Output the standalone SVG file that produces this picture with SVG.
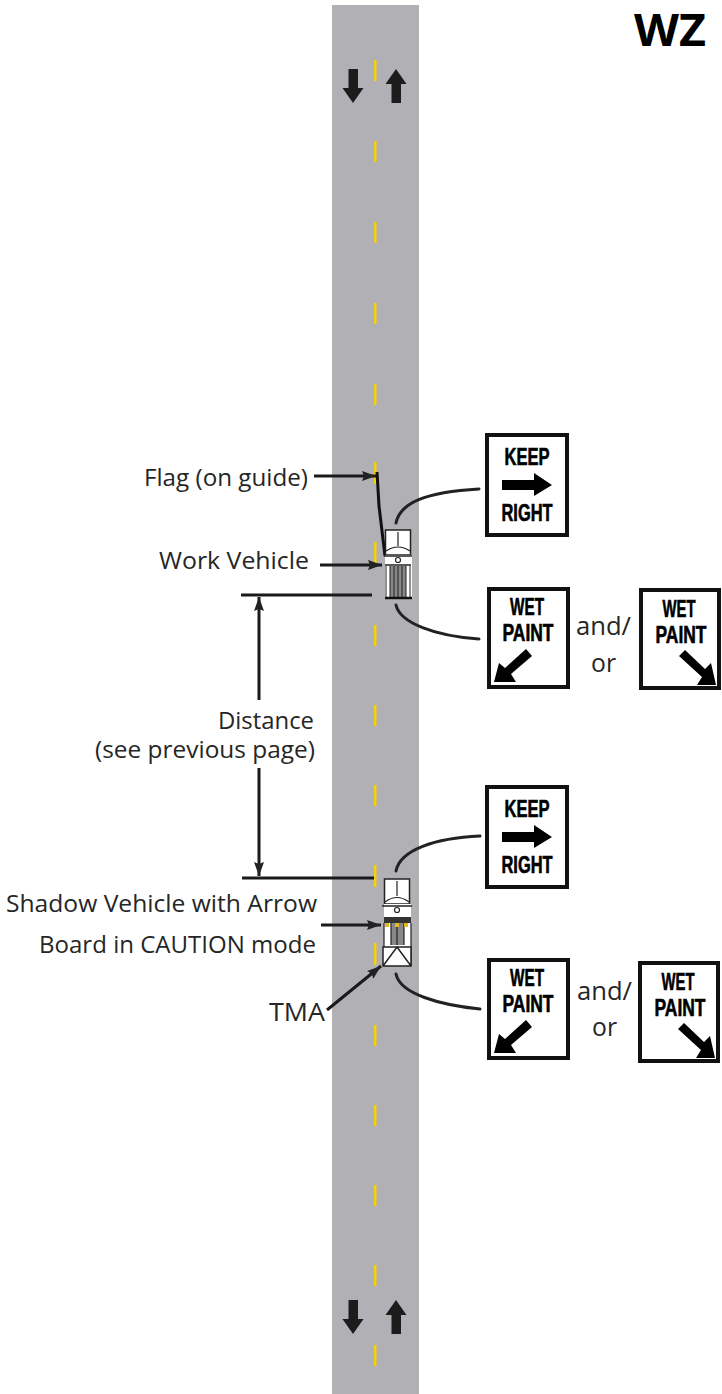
<svg xmlns="http://www.w3.org/2000/svg" width="722" height="1394" viewBox="0 0 722 1394">
<style>
.lbl{font-family:"Open Sans","Liberation Sans",sans-serif;font-size:23px;fill:#262626}
.sg{font-family:"Liberation Sans",Arial,sans-serif;font-weight:bold;font-size:23px;fill:#000;stroke:#000;stroke-width:.6}
.plate{fill:#fff;stroke:#111;stroke-width:4}
.ln{fill:none;stroke:#1a1a1a;stroke-width:3}
.cv{fill:none;stroke:#222;stroke-width:3;stroke-linecap:round}
.dash{fill:#f8d008}
.ra{fill:#1c1c1c}
.t{fill:#fff;stroke:#222;stroke-width:1.5}
.d{fill:none;stroke:#222;stroke-width:1.2}
</style>
<defs>
<marker id="ah" markerWidth="15" markerHeight="11" refX="14" refY="5.500" orient="auto" markerUnits="userSpaceOnUse"><path d="M0,0.500 L14,5.500 L0,10.500 L2,5.500 Z" fill="#222"/></marker>
<g id="keep">
<rect class="plate" x="2" y="2" width="80" height="100"/>
<text class="sg" x="42" y="32" text-anchor="middle" textLength="45" lengthAdjust="spacingAndGlyphs">KEEP</text>
<path d="M17,47 H49 V40 L67,52 L49,63 V57 H17 Z" fill="#000"/>
<text class="sg" x="42" y="88" text-anchor="middle" textLength="51" lengthAdjust="spacingAndGlyphs">RIGHT</text>
</g>
<g id="wetl">
<rect class="plate" x="2" y="2" width="79" height="98"/>
<text class="sg" x="40" y="28" text-anchor="middle" textLength="34" lengthAdjust="spacingAndGlyphs">WET</text>
<text class="sg" x="41" y="54" text-anchor="middle" textLength="51" lengthAdjust="spacingAndGlyphs">PAINT</text>
<path d="M39,62 L45,69 L24,87 L29,95 L7,95 L12,76 L18,81 Z" fill="#000"/>
</g>
<g id="wetr">
<rect class="plate" x="2" y="2" width="78" height="98"/>
<text class="sg" x="40" y="29" text-anchor="middle" textLength="33" lengthAdjust="spacingAndGlyphs">WET</text>
<text class="sg" x="42" y="55" text-anchor="middle" textLength="51" lengthAdjust="spacingAndGlyphs">PAINT</text>
<path d="M40,68 L46,62 L66,81 L72,75 L77,97 L58,97 L63,89 Z" fill="#000"/>
</g>
<path id="up" d="M0,0 L10.500,15 H5 V34 H-4.500 V15 H-10.500 Z" class="ra"/>
</defs>

<g id="road">
<rect x="332" y="5" width="87" height="1389" fill="#b1b1b5"/>
<g id="centerline" class="dash">
<rect x="374" y="60" width="2.500" height="21"/><rect x="374" y="141" width="2.500" height="21"/><rect x="374" y="222" width="2.500" height="21"/><rect x="374" y="303" width="2.500" height="21"/><rect x="374" y="384" width="2.500" height="21"/><rect x="374" y="462" width="2.500" height="22"/><rect x="374" y="542" width="2.500" height="23"/><rect x="374" y="625" width="2.500" height="21"/><rect x="374" y="705" width="2.500" height="21"/><rect x="374" y="785" width="2.500" height="21"/><rect x="374" y="865" width="2.500" height="22"/><rect x="374" y="943" width="2.500" height="22"/><rect x="374" y="1025" width="2.500" height="21"/><rect x="374" y="1105" width="2.500" height="21"/><rect x="374" y="1185" width="2.500" height="21"/><rect x="374" y="1265" width="2.500" height="21"/><rect x="374" y="1345" width="2.500" height="21"/>
</g>
<use href="#up" transform="translate(353,103) scale(1,-1)"/>
<use href="#up" transform="translate(396,69)"/>
<use href="#up" transform="translate(353,1334) scale(1,-1)"/>
<use href="#up" transform="translate(396,1300)"/>
</g>

<text id="title" x="634" y="46" font-family="'Open Sans','Liberation Sans',sans-serif" font-weight="bold" font-size="44" fill="#000" textLength="72" lengthAdjust="spacingAndGlyphs">WZ</text>

<g id="connectors">
<path class="ln" d="M314,476 H376" marker-end="url(#ah)"/>
<path d="M377,472 L379,506 L385,556" fill="none" stroke="#111" stroke-width="3"/>
<path class="ln" d="M320,565 H382" marker-end="url(#ah)"/>
<path class="ln" d="M241,595 H372"/>
<path class="ln" d="M242,878 H374"/>
<path class="ln" d="M259,700 V597" marker-end="url(#ah)"/>
<path class="ln" d="M259,768 V876" marker-end="url(#ah)"/>
<path class="ln" d="M321,925 H381" marker-end="url(#ah)"/>
<path class="ln" d="M327,1010 L381,966" marker-end="url(#ah)"/>
<path class="cv" d="M396,523 C400,503 425,492 479,489"/>
<path class="cv" d="M396,605 C400,623 435,636 479,639"/>
<path class="cv" d="M396,871 C400,850 435,838 480,836"/>
<path class="cv" d="M396,974 C400,994 440,1005 480,1009"/>
</g>

<g id="work-vehicle">
<rect class="t" x="385.500" y="530" width="25" height="25"/>
<path class="d" d="M398,532 V546 M386,551 Q398,543 410,551"/>
<rect x="385" y="555" width="27" height="44" fill="#fff"/>
<path d="M384,556 H412" stroke="#222" stroke-width="1.500"/>
<circle cx="398" cy="560" r="2.500" class="d"/>
<rect x="390" y="566" width="16" height="31" fill="#888"/>
<path d="M386,566 V597 M390,566 V597 M394,566 V597 M398,566 V597 M402,566 V597 M406,566 V597 M410,566 V597" stroke="#222" stroke-width="1"/>
<path d="M385,565 H411" stroke="#222" stroke-width="1.500"/>
<path d="M385,598 H412" stroke="#111" stroke-width="2.500"/>
</g>

<g id="shadow-vehicle">
<rect class="t" x="384.500" y="879" width="25" height="25"/>
<path class="d" d="M397,881 V896 M385,902 Q397,893 409,902"/>
<rect x="384" y="904" width="27" height="62" fill="#fff"/>
<path d="M382,906 H412" stroke="#222" stroke-width="1.500"/>
<circle cx="397" cy="910" r="2.500" class="d"/>
<rect x="384" y="917" width="27" height="6" fill="#333"/>
<rect x="391" y="923" width="13" height="22" fill="#888"/>
<path d="M384,923 V966 M391,923 V945 M397,923 V945 M404,923 V945 M411,923 V966" stroke="#222" stroke-width="1.200"/>
<rect x="385" y="923" width="4" height="4" fill="#e3b81a"/><rect x="395" y="923" width="4" height="4" fill="#e3b81a"/><rect x="404" y="923" width="4" height="4" fill="#e3b81a"/>
<path class="t" d="M383,966 V947 H411 V966 Z M383,966 L397,947 L411,966"/>
</g>

<g id="sign-keep-1"><use href="#keep" x="485" y="433"/></g>
<g id="sign-wet-left-1"><use href="#wetl" x="487" y="587"/></g>
<g id="sign-wet-right-1"><use href="#wetr" x="639" y="588"/></g>
<g id="sign-keep-2"><use href="#keep" x="485" y="785"/></g>
<g id="sign-wet-left-2"><use href="#wetl" x="487" y="958"/></g>
<g id="sign-wet-right-2"><use href="#wetr" x="638" y="961"/></g>

<g id="labels">
<text class="lbl" x="144" y="486" textLength="164" lengthAdjust="spacingAndGlyphs">Flag (on guide)</text>
<text class="lbl" x="159" y="569" textLength="150" lengthAdjust="spacingAndGlyphs">Work Vehicle</text>
<text class="lbl" x="218" y="729" textLength="96" lengthAdjust="spacingAndGlyphs">Distance</text>
<text class="lbl" x="95" y="758" textLength="220" lengthAdjust="spacingAndGlyphs">(see previous page)</text>
<text class="lbl" x="6" y="912" textLength="311" lengthAdjust="spacingAndGlyphs">Shadow Vehicle with Arrow</text>
<text class="lbl" x="39" y="953" textLength="277" lengthAdjust="spacingAndGlyphs">Board in CAUTION mode</text>
<text class="lbl" x="269" y="1021" style="font-size:25px" textLength="56" lengthAdjust="spacingAndGlyphs">TMA</text>
<text class="lbl" x="576" y="635" style="font-size:25px" textLength="55" lengthAdjust="spacingAndGlyphs">and/</text>
<text class="lbl" x="591" y="672" style="font-size:25px" textLength="25" lengthAdjust="spacingAndGlyphs">or</text>
<text class="lbl" x="577" y="1000" style="font-size:25px" textLength="55" lengthAdjust="spacingAndGlyphs">and/</text>
<text class="lbl" x="592" y="1036" style="font-size:25px" textLength="25" lengthAdjust="spacingAndGlyphs">or</text>
</g>
</svg>
